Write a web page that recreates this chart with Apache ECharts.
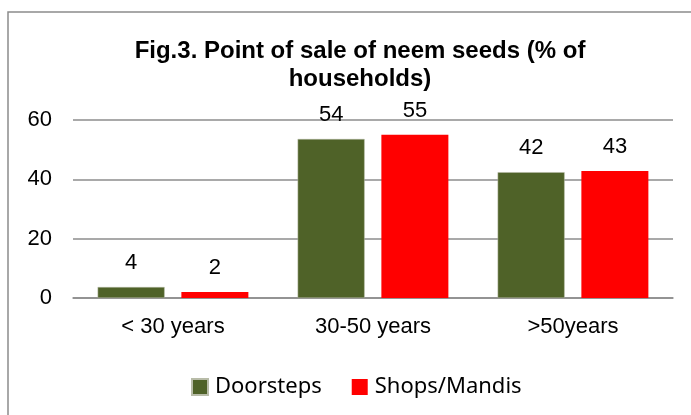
<!DOCTYPE html>
<html>
<head>
<meta charset="utf-8">
<script src="https://cdn.jsdelivr.net/npm/echarts@6/dist/echarts.min.js"></script>
<style>
  html, body { margin: 0; padding: 0; background: #fff; }
  #main { width: 691px; height: 415px; }
</style>
</head>
<body>
<div id="main"></div>
<script>
var categories = ['< 30 years', '30-50 years', '>50years'];
var doorsteps = [3.7, 53.6, 42.4];
var shopsMandis = [2.0, 55.0, 42.8];
var seriesNames = ['Doorsteps', 'Shops/Mandis'];
var yTicks = [0, 20, 40, 60];

var myChart = echarts.init(document.getElementById('main'));

var labelStyle = {
    show: true,
    position: 'top',
    distance: 13,
    color: '#000',
    fontFamily: 'Liberation Sans',
    fontSize: 22,
    formatter: function(p) {
        return Math.round(p.value);
    }
};

var option = {
    backgroundColor: '#fff',
    animation: false,
    // 外框
    graphic: [{
        type: 'rect',
        shape: { x: 8, y: 12, width: 720, height: 440 },
        style: { fill: 'none', stroke: '#8c8c8c', lineWidth: 1.5 },
        silent: true
    }],
    title: {
        text: 'Fig.3. Point of sale of neem seeds (% of\nhouseholds)',
        left: 355,
        top: 32,
        textAlign: 'center',
        textStyle: {
            fontFamily: 'Liberation Sans',
            fontSize: 24,
            fontWeight: 'bold',
            color: '#000',
            lineHeight: 28
        }
    },
    legend: {
        data: seriesNames,
        left: 186,
        top: 371,
        icon: 'rect',
        itemWidth: 16,
        itemHeight: 16,
        itemGap: 30,
        textStyle: {
            fontFamily: 'Noto Sans',
            fontSize: 22,
            color: '#000',
            padding: [0, 0, 0, 2]
        }
    },
    grid: {
        left: 73,
        right: 18,
        top: 120,
        bottom: 117,
        containLabel: false
    },
    xAxis: {
        type: 'category',
        data: categories,
        axisLine: { show: true, lineStyle: { color: '#8c8c8c', width: 1.5 } },
        axisTick: { show: false },
        axisLabel: {
            color: '#000',
            fontFamily: 'Liberation Sans',
            fontSize: 22,
            margin: 18
        }
    },
    yAxis: {
        type: 'value',
        min: yTicks[0],
        max: yTicks[yTicks.length - 1],
        interval: 20,
        axisLine: { show: false },
        axisTick: { show: false },
        splitLine: { lineStyle: { color: '#8c8c8c', width: 1.5 } },
        axisLabel: {
            color: '#000',
            fontFamily: 'Liberation Sans',
            fontSize: 22,
            margin: 21
        }
    },
    series: [
        {
            name: seriesNames[0],
            type: 'bar',
            data: doorsteps,
            barWidth: 67,
            barGap: '25%',
            itemStyle: { color: '#4f6228', borderColor: '#b8bca8', borderWidth: 0.5 },
            label: labelStyle
        },
        {
            name: seriesNames[1],
            type: 'bar',
            data: shopsMandis,
            barWidth: 67,
            itemStyle: { color: '#ff0000' },
            label: labelStyle
        }
    ]
};

myChart.setOption(option);
</script>
</body>
</html>
